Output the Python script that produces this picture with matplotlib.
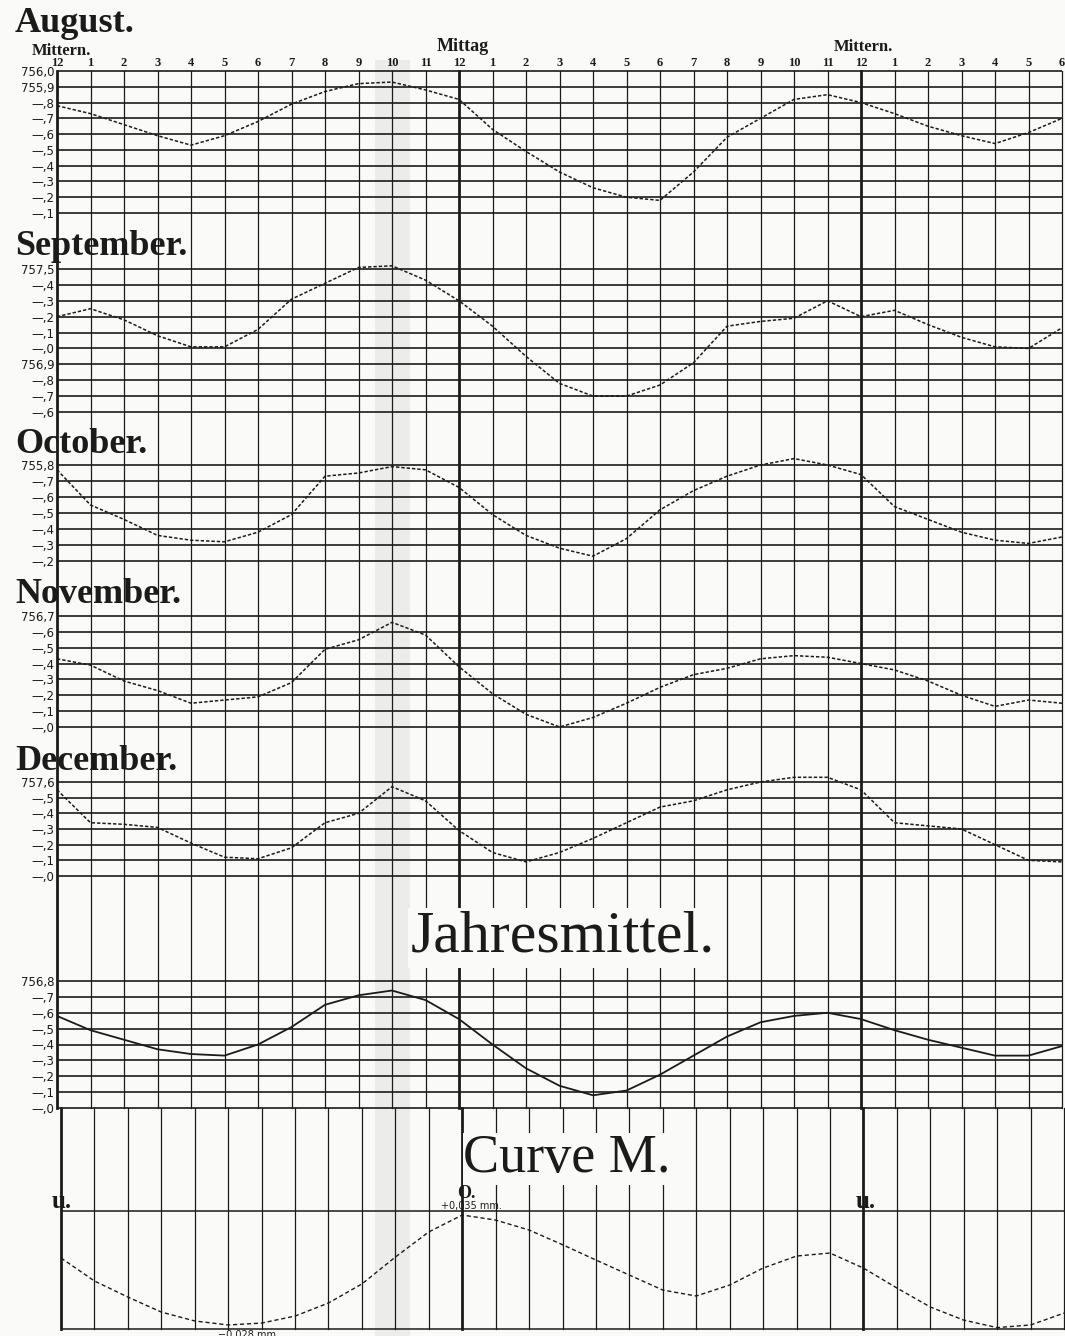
import numpy as np
import matplotlib.pyplot as plt
from matplotlib.patches import Rectangle

W, H = 1065, 1336
INK = '#1b1b1b'
PAPER = '#fafaf8'
SERIF = 'Liberation Serif'

# Stunden von Mitternacht bis 6 Uhr morgens des Folgetages
hours = list(range(31))
hour_labels = (['12'] + [str(i) for i in range(1, 12)]) * 2 + ['12'] + [str(i) for i in range(1, 7)]

august = [755.78, 755.73, 755.66, 755.59, 755.53, 755.59, 755.68, 755.79, 755.87, 755.92,
          755.93, 755.88, 755.82, 755.63, 755.49, 755.36, 755.26, 755.20, 755.18, 755.36,
          755.58, 755.70, 755.82, 755.85, 755.80, 755.73, 755.65, 755.59, 755.54, 755.61, 755.70]
september = [757.20, 757.25, 757.18, 757.08, 757.01, 757.01, 757.12, 757.31, 757.41, 757.51,
             757.52, 757.43, 757.30, 757.14, 756.95, 756.78, 756.70, 756.70, 756.77, 756.91,
             757.14, 757.17, 757.19, 757.30, 757.20, 757.24, 757.15, 757.07, 757.01, 757.00, 757.13]
october = [755.77, 755.55, 755.46, 755.36, 755.33, 755.32, 755.38, 755.49, 755.73, 755.75,
           755.79, 755.77, 755.66, 755.49, 755.36, 755.28, 755.23, 755.34, 755.52, 755.64,
           755.73, 755.80, 755.84, 755.80, 755.74, 755.54, 755.46, 755.38, 755.33, 755.31, 755.35]
november = [756.43, 756.39, 756.29, 756.23, 756.15, 756.17, 756.19, 756.28, 756.49, 756.55,
            756.66, 756.58, 756.38, 756.21, 756.08, 756.00, 756.06, 756.15, 756.25, 756.33,
            756.37, 756.43, 756.45, 756.44, 756.40, 756.36, 756.29, 756.20, 756.13, 756.17, 756.15]
december = [757.55, 757.34, 757.33, 757.31, 757.21, 757.12, 757.11, 757.18, 757.34, 757.40,
            757.57, 757.48, 757.29, 757.15, 757.09, 757.15, 757.24, 757.34, 757.44, 757.48,
            757.55, 757.60, 757.63, 757.63, 757.55, 757.34, 757.32, 757.30, 757.20, 757.10, 757.09]
jahresmittel = [756.58, 756.49, 756.43, 756.37, 756.34, 756.33, 756.40, 756.51, 756.65, 756.71,
                756.74, 756.68, 756.56, 756.40, 756.25, 756.14, 756.08, 756.11, 756.21, 756.33,
                756.45, 756.54, 756.58, 756.60, 756.56, 756.49, 756.43, 756.38, 756.33, 756.33, 756.39]
# Curve M (mm Abweichung)
curve_m = [0.0104, -0.0028, -0.0120, -0.0206, -0.0257, -0.0280, -0.0269, -0.0229, -0.0154, -0.0045,
           0.0109, 0.0253, 0.0350, 0.0321, 0.0264, 0.0180, 0.0092, 0.0006, -0.0080, -0.0114,
           -0.0051, 0.0046, 0.0115, 0.0132, 0.0046, -0.0068, -0.0177, -0.0252, -0.0295, -0.0280, -0.0212]
curve_m_lines = [0.0373, -0.0303]

# Panels: Titel, Daten, oberste Linie, Anzahl Linien
panels = [
    ('August.', august, 756.0, 10),
    ('September.', september, 757.5, 10),
    ('October.', october, 755.8, 7),
    ('November.', november, 756.7, 8),
    ('December.', december, 757.6, 7),
    (None, jahresmittel, 756.8, 9),
]
# Lage in Pixeln: oberste Linie, unterste Linie, Grundlinie des Titels
layout = [(71, 213, 32), (269, 412, 255), (465, 561, 453),
          (616, 727, 603), (782, 876, 770), (981, 1108, None)]
X0, X1 = 57, 1062


def add_axes_px(left, right, top, bottom):
    return fig.add_axes([left / W, 1 - bottom / H, (right - left) / W, (bottom - top) / H])


def fig_text(px, py, s, **kw):
    return fig.text(px / W, 1 - py / H, s, color=INK, **kw)


def grid_labels(top, n):
    vals = [round(top - 0.1 * i, 1) for i in range(n)]
    labels = []
    prev = None
    for v in vals:
        whole = int(np.floor(v + 1e-9))
        s = f'{v:.1f}'
        if prev is None or whole != prev:
            labels.append(s.replace('.', ','))
        else:
            labels.append('—,' + s[-1])
        prev = whole
    return vals, labels


def clean(ax):
    for s in ax.spines.values():
        s.set_visible(False)
    ax.patch.set_visible(False)


fig = plt.figure(figsize=(W / 100, H / 100), dpi=100, facecolor=PAPER)

# Papierfalte im Scan
fig.add_artist(Rectangle((375 / W, 0), 35 / W, 1 - 60 / H, transform=fig.transFigure,
                         fc='#dcdcdc', ec='none', alpha=0.45, zorder=-5))

# senkrechte Stundenlinien
bg1 = add_axes_px(X0, X1, 71, 1108)
bg2 = add_axes_px(X0 + 4, X1 + 2, 1108, 1329)
for bg in (bg1, bg2):
    bg.set_xlim(0, 30)
    bg.set_ylim(0, 1)
    clean(bg)
    bg.set_yticks([])
    for h in hours:
        lw = 2.0 if h in (0, 12, 24) else 0.9
        bg.axvline(h, color=INK, lw=lw, clip_on=False, zorder=1)
bg2.set_xticks([])
bg1.xaxis.set_ticks_position('top')
bg1.set_xticks(hours)
bg1.set_xticklabels(hour_labels, fontsize=9, fontweight='bold', family=SERIF, color=INK)
bg1.tick_params(axis='x', length=0, pad=1.5)

for (title, data, top, n), (top_px, bot_px, title_y) in zip(panels, layout):
    step = (bot_px - top_px) / (n - 1)
    ax = add_axes_px(X0, X1, top_px - step / 2, bot_px + step / 2)
    vals, labels = grid_labels(top, n)
    ax.set_xlim(0, 30)
    ax.set_ylim(vals[-1] - 0.05, vals[0] + 0.05)
    for v in vals:
        ax.axhline(v, color=INK, lw=1.2, zorder=1)
    if title is None:
        ax.plot(hours, data, color=INK, lw=1.3, zorder=3)
    else:
        ax.plot(hours, data, color=INK, lw=1.1, ls=(0, (2.2, 1.3)), zorder=3)
    ax.set_xticks([])
    ax.set_yticks(vals)
    ax.set_yticklabels(labels, fontsize=8.5, family='DejaVu Sans', color=INK)
    ax.tick_params(axis='y', length=0, pad=2)
    clean(ax)
    if title:
        fig_text(15, title_y, title, fontsize=26, fontweight='bold', family=SERIF, va='baseline')

# Curve M
m_top_px, m_bot_px = 1211, 1329
s = (curve_m_lines[0] - curve_m_lines[1]) / (m_bot_px - m_top_px)
axm = add_axes_px(X0 + 4, X1 + 2, m_top_px - 6, m_bot_px + 6)
axm.set_xlim(0, 30)
axm.set_ylim(curve_m_lines[1] - 6 * s, curve_m_lines[0] + 6 * s)
for v in curve_m_lines:
    axm.axhline(v, color=INK, lw=1.1, zorder=1)
axm.plot(hours, curve_m, color=INK, lw=1.0, ls=(0, (3, 2)), zorder=3)
axm.set_xticks([])
axm.set_yticks([])
clean(axm)

# Beschriftungen
fig_text(61, 55, 'Mittern.', ha='center', va='baseline', fontsize=12, fontweight='bold', family=SERIF)
fig_text(463, 51, 'Mittag', ha='center', va='baseline', fontsize=13, fontweight='bold', family=SERIF)
fig_text(863, 51, 'Mittern.', ha='center', va='baseline', fontsize=12, fontweight='bold', family=SERIF)

fig_text(563, 952, 'Jahresmittel.', ha='center', va='baseline', fontsize=43, family=SERIF,
         bbox=dict(fc=PAPER, ec='none', pad=2))
fig_text(567, 1172, 'Curve M.', ha='center', va='baseline', fontsize=39, family=SERIF,
         bbox=dict(fc=PAPER, ec='none', pad=0.5))

fig_text(62, 1208, 'u.', ha='center', va='baseline', fontsize=18, fontweight='bold', family=SERIF)
fig_text(866, 1208, 'u.', ha='center', va='baseline', fontsize=18, fontweight='bold', family=SERIF)
fig_text(466, 1198, 'O.', ha='center', va='baseline', fontsize=13, fontweight='bold', family=SERIF)
fig_text(471, 1209, '+0,035 mm.', ha='center', va='baseline', fontsize=7, family='DejaVu Sans')
fig_text(248, 1330, '−0,028 mm.', ha='center', va='top', fontsize=7, family='DejaVu Sans')

fig.savefig('out.png', dpi=100, facecolor=PAPER)
